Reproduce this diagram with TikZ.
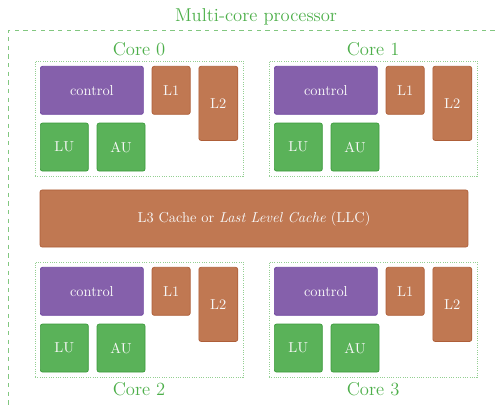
\documentclass[tikz,border=0pt]{standalone}
\usepackage{tikz}
\usetikzlibrary{positioning, fit}
\definecolor{ctrlpurple}{HTML}{8560AB}
\definecolor{ctrlborder}{HTML}{6E44A0}
\definecolor{cachebrown}{HTML}{C07852}
\definecolor{cacheborder}{HTML}{AE5E38}
\definecolor{alugreen}{HTML}{5AB259}
\definecolor{aluborder}{HTML}{3C9A3C}
\definecolor{coregreen}{HTML}{4DAF4A}
\tikzstyle{unit} = [rectangle, rounded corners=1.5pt, line width=0.5pt, text=white!94!gray, inner sep=0pt, text centered]
\tikzstyle{control} = [unit, fill=ctrlpurple, draw=ctrlborder, minimum width=71.5pt, minimum height=33.3pt]
\tikzstyle{cache} = [unit, fill=cachebrown, draw=cacheborder]
\tikzstyle{alu} = [unit, fill=alugreen, draw=aluborder, minimum width=33.3pt, minimum height=33.3pt]
\tikzstyle{corelabel} = [text=coregreen, font=\fontsize{12.9}{15}\selectfont, inner sep=3pt]
\tikzstyle{corebox} = [draw=coregreen!60, densely dotted, line width=0.6pt, inner sep=3.5pt]

\begin{document}
\begin{tikzpicture}[x=0.694pt, y=-0.694pt, node distance=5.55pt]
    \useasboundingbox (0,0) rectangle (496,408);
    \clip (0,0) rectangle (496,408);
    % the four cores
    \foreach \i/\x/\y/\side in {0/40/66/above, 1/274/66/above, 2/40/267/below, 3/274/267/below} {
        \node (ctrl\i) [control, anchor=north west] at (\x,\y) {control};
        \node (lone\i) [cache, right=of ctrl\i, minimum width=26.4pt, minimum height=33.3pt] {L1};
        \node (ltwo\i) [cache, right=of lone\i.north east, anchor=north west, minimum width=27pt, minimum height=51.4pt] {L2};
        \node (lu\i) [alu, below=of ctrl\i.south west, anchor=north west] {LU};
        \node (au\i) [alu, right=of lu\i] {AU};
        \node (core\i) [corebox, fit=(ctrl\i)(ltwo\i)(lu\i)(au\i), label={[corelabel]\side:Core \i}] {};
    }
    % shared cache
    \node (llc) [cache, minimum width=297pt, minimum height=39.6pt] at (254,218.5) {L3 Cache or \textit{Last Level Cache} (LLC)};
    % the whole chip
    \node (cpu) [fit=(core0)(core3), draw=coregreen!70, dashed, line width=0.6pt, inner xsep=18pt, inner ysep=21pt, label={[corelabel]above:Multi-core processor}] {};
\end{tikzpicture}
\end{document}
